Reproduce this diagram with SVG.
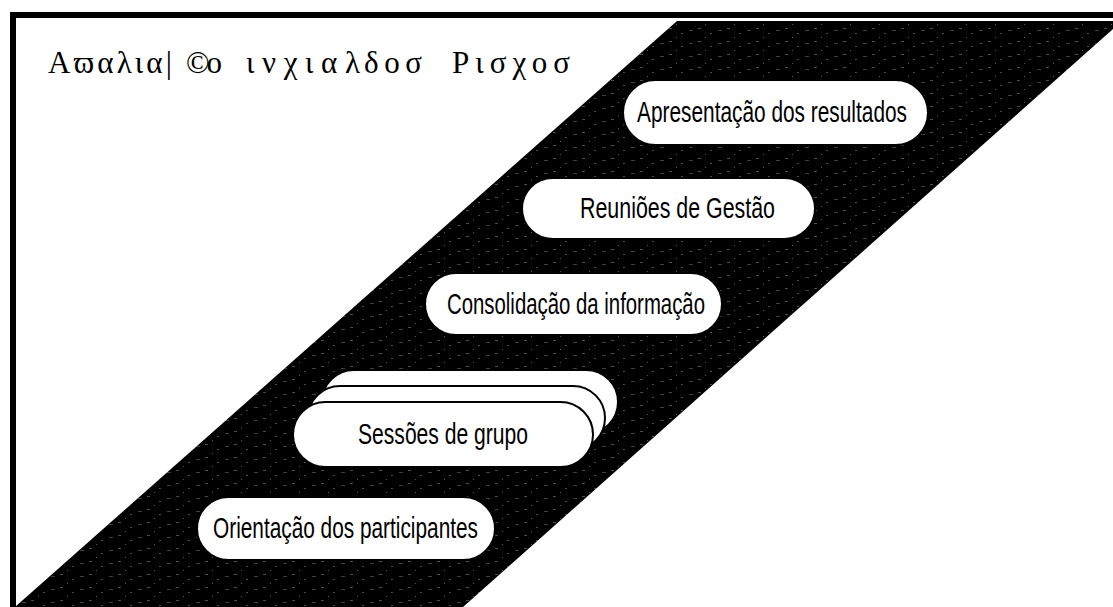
<svg xmlns="http://www.w3.org/2000/svg" width="1113" height="607" viewBox="0 0 1113 607">
  <style>
    .title { font-family: "Liberation Serif", "DejaVu Serif", serif; font-size: 31px; fill: #000; }
    .pill { fill: #fff; stroke: #000; stroke-width: 2; }
    .lbl { font-family: "Liberation Sans", Arial, sans-serif; font-size: 29px; fill: #000; text-anchor: start; }
  </style>
  <defs>
    <pattern id="speck" width="29" height="13" patternUnits="userSpaceOnUse">
      <rect x="2" y="2" width="3" height="1" fill="#fff" opacity="0.3"/>
      <rect x="14" y="7" width="2" height="1" fill="#fff" opacity="0.3"/>
      <rect x="22" y="4" width="4" height="1" fill="#fff" opacity="0.25"/>
      <rect x="9" y="11" width="1" height="1" fill="#fff" opacity="0.35"/>
    </pattern>
  </defs>
  <rect width="1113" height="607" fill="#fff"/>
  <g id="band">
    <polygon points="677,21 1122,21 463,607 15,607" fill="#000"/>
    <polygon points="677,21 1122,21 463,607 15,607" fill="url(#speck)"/>
  </g>
  <g id="frame">
    <path d="M13 607 V15 H1113" fill="none" stroke="#000" stroke-width="6"/>
  </g>
  <g id="title">
    <text class="title" x="48" y="73" textLength="124" lengthAdjust="spacing">Aϖαλια|</text>
    <text class="title" x="186" y="73" textLength="36" lengthAdjust="spacing">©ο</text>
    <text class="title" x="246" y="73" textLength="114" lengthAdjust="spacing">ινχιαλ</text>
    <text class="title" x="364" y="73" textLength="58" lengthAdjust="spacing">δοσ</text>
    <text class="title" x="452" y="73" textLength="118" lengthAdjust="spacing">Ρισχοσ</text>
  </g>
  <g id="connectors"></g>
  <g id="node-apresentacao">
    <rect class="pill" x="623" y="80" width="305" height="65" rx="32.5"/>
    <text class="lbl" x="637" y="122" textLength="270" lengthAdjust="spacingAndGlyphs">Apresentação dos resultados</text>
  </g>
  <g id="node-reunioes">
    <rect class="pill" x="522" y="178" width="293" height="61" rx="30.5"/>
    <text class="lbl" x="580" y="218" textLength="195" lengthAdjust="spacingAndGlyphs">Reuniões de Gestão</text>
  </g>
  <g id="node-consolidacao">
    <rect class="pill" x="425" y="273" width="297" height="62" rx="31"/>
    <text class="lbl" x="447" y="314" textLength="258" lengthAdjust="spacingAndGlyphs">Consolidação da informação</text>
  </g>
  <g id="node-sessoes">
    <rect class="pill" x="322" y="370" width="296" height="64" rx="32"/>
    <rect class="pill" x="308" y="386" width="297" height="64" rx="32"/>
    <rect class="pill" x="293" y="402" width="300" height="65" rx="32.5"/>
    <text class="lbl" x="358" y="444" textLength="170" lengthAdjust="spacingAndGlyphs">Sessões de grupo</text>
  </g>
  <g id="node-orientacao">
    <rect class="pill" x="197" y="497" width="298" height="63" rx="31.5"/>
    <text class="lbl" x="213" y="538" textLength="265" lengthAdjust="spacingAndGlyphs">Orientação dos participantes</text>
  </g>
</svg>
